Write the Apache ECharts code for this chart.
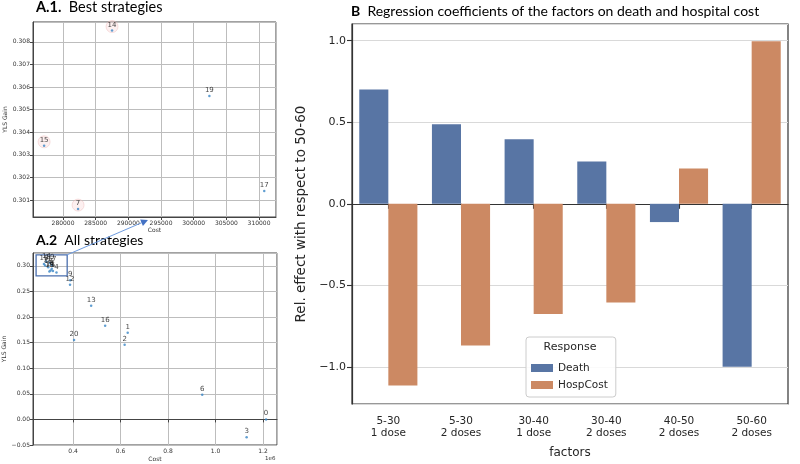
<!DOCTYPE html>
<html><head><meta charset="utf-8">
<script src="https://cdn.jsdelivr.net/npm/echarts@6/dist/echarts.min.js"></script>
<style>html,body{margin:0;padding:0;background:#fff}#c{width:800px;height:464px}</style>
</head><body><div id="c"></div>
<script>
// ---- Panel A data: strategies (cost, YLS gain) ----
const strategyIds   = [0, 1, 2, 3, 4, 5, 6, 7, 8, 9, 10, 11, 12, 13, 14, 15, 16, 17, 18, 19, 20];
const strategyCost  = [1213000, 630000, 617000, 1131000, 330000, 315000, 944000, 282300, 310000, 388000, 295000, 305000, 387000, 476000, 287500, 277100, 535000, 310800, 300000, 302400, 404000];
const strategyYls   = [0.000, 0.169, 0.146, -0.035, 0.287, 0.290, 0.048, 0.3006, 0.294, 0.272, 0.297, 0.291, 0.263, 0.222, 0.3085, 0.3034, 0.183, 0.3014, 0.289, 0.3056, 0.155];
const bestIds        = [7, 14, 15, 17, 19];
const highlightedIds = [7, 14, 15];
const zoomBoxCost = [244000, 375000];
const zoomBoxYls  = [0.2805, 0.3215];

// ---- Panel B data ----
const factorAges  = ['5-30', '5-30', '30-40', '30-40', '40-50', '50-60'];
const factorDoses = ['1 dose', '2 doses', '1 dose', '2 doses', '2 doses', '2 doses'];
const deathCoef    = [0.70, 0.488, 0.396, 0.259, -0.112, -0.998];
const hospCostCoef = [-1.113, -0.868, -0.676, -0.605, 0.216, 0.996];
const responseNames = ['Death', 'HospCost'];

const factorCategories = factorAges.map((a, i) => a + '\n' + factorDoses[i]);
const pts = ids => ids.map(id => { const i = strategyIds.indexOf(id); return [strategyCost[i], strategyYls[i], id]; });

const FONT = 'DejaVu Sans';
const minus = s => s.replace('-', '\u2212');

const smallAxis = (extra) => Object.assign({
  type: 'value', scale: true,
  axisLine: { show: true, lineStyle: { color: '#444', width: 1 } },
  axisTick: { show: true, length: 3, lineStyle: { color: '#444' } },
  axisLabel: { fontSize: 6, color: '#333', fontFamily: FONT, margin: 3, showMinLabel: false, showMaxLabel: false },
  splitLine: { show: true, lineStyle: { color: '#bdbdbd', width: 1 } },
  nameLocation: 'middle',
  nameTextStyle: { fontSize: 6, color: '#333', fontFamily: FONT }
}, extra);

const titleStyle = (size) => ({
  fontFamily: 'Lato', fontWeight: 'normal', fontSize: size, color: '#000',
  rich: { b: { fontFamily: 'Lato', fontWeight: 'bold', fontSize: size, color: '#000' },
          r: { fontFamily: 'Lato', fontWeight: 'normal', fontSize: size, color: '#000' } }
});

const chart = echarts.init(document.getElementById('c'), null, { renderer: 'canvas' });

const option = {
  animation: false,
  backgroundColor: '#fff',
  title: [
    { text: '{b|A.1.}  {r|Best strategies}', left: 36, top: 0, padding: 0, textStyle: titleStyle(14.5) },
    { text: '{b|A.2}  {r|All strategies}', left: 36, top: 233, padding: 0, textStyle: titleStyle(14) },
    { text: '{b|B}  {r|Regression coefficients of the factors on death and hospital cost}', left: 351, top: 4, padding: 0, textStyle: titleStyle(14) }
  ],
  grid: [
    { left: 33, top: 22, width: 243, height: 195, show: true, borderColor: '#444', borderWidth: 1, backgroundColor: 'transparent' },
    { left: 33, top: 253, width: 244, height: 192, show: true, borderColor: '#444', borderWidth: 1, backgroundColor: 'transparent' },
    { left: 352, top: 24, width: 436, height: 380, show: true, borderColor: '#333', borderWidth: 1.2, backgroundColor: 'transparent' }
  ],
  xAxis: [
    smallAxis({ gridIndex: 0, min: 275400, max: 312600, splitNumber: 7, name: 'Cost', nameGap: 10,
      axisLabel: { fontSize: 6, color: '#333', fontFamily: FONT, margin: 3, showMinLabel: false, showMaxLabel: false, formatter: v => String(Math.round(v)) } }),
    smallAxis({ gridIndex: 1, min: 231000, max: 1259000, splitNumber: 5, name: 'Cost', nameGap: 11,
      axisLabel: { fontSize: 6, color: '#333', fontFamily: FONT, margin: 3, showMinLabel: false, showMaxLabel: false, formatter: v => (v / 1e6).toFixed(1) } }),
    { type: 'category', gridIndex: 2, data: factorCategories,
      axisLine: { show: true, lineStyle: { color: '#333', width: 1.2 } },
      axisTick: { show: true, alignWithLabel: true, length: 5, lineStyle: { color: '#333', width: 1.1 } },
      axisLabel: { fontSize: 10.5, lineHeight: 12.5, color: '#262626', fontFamily: FONT, margin: 11 },
      splitLine: { show: false },
      name: 'factors', nameLocation: 'middle', nameGap: 43,
      nameTextStyle: { fontSize: 12, color: '#262626', fontFamily: FONT } }
  ],
  yAxis: [
    smallAxis({ gridIndex: 0, min: 0.30025, max: 0.30888, splitNumber: 8, name: 'YLS Gain', nameGap: 18,
      axisLabel: { fontSize: 6, color: '#333', fontFamily: FONT, margin: 3, showMinLabel: false, showMaxLabel: false, formatter: v => v.toFixed(3) } }),
    smallAxis({ gridIndex: 1, min: -0.05, max: 0.325, splitNumber: 7, name: 'YLS Gain', nameGap: 23,
      axisLabel: { fontSize: 6, color: '#333', fontFamily: FONT, margin: 3, showMinLabel: true, showMaxLabel: false, formatter: v => minus(v.toFixed(2)) } }),
    { type: 'value', gridIndex: 2, min: -1.227, max: 1.102, splitNumber: 5,
      axisLine: { show: true, lineStyle: { color: '#333', width: 1.2 } },
      axisTick: { show: true, length: 5, lineStyle: { color: '#333', width: 1.1 } },
      axisLabel: { fontSize: 11, color: '#262626', fontFamily: FONT, margin: 6, showMinLabel: false, showMaxLabel: false, formatter: v => minus(v.toFixed(1)) },
      splitLine: { show: true, lineStyle: { color: '#d9d9d9', width: 1 } },
      name: 'Rel. effect with respect to 50-60', nameLocation: 'middle', nameGap: 33,
      nameTextStyle: { fontSize: 13.5, color: '#262626', fontFamily: FONT } }
  ],
  legend: {
    data: responseNames, orient: 'vertical', left: 526, top: 337,
    padding: [24, 8, 5, 5], itemWidth: 22, itemHeight: 8, itemGap: 3, icon: 'rect',
    borderColor: '#cccccc', borderWidth: 1, borderRadius: 3, backgroundColor: 'rgba(255,255,255,0.85)',
    textStyle: { fontSize: 10.5, color: '#262626', fontFamily: FONT, lineHeight: 14 }
  },
  series: [
    { type: 'scatter', xAxisIndex: 0, yAxisIndex: 0, data: pts(highlightedIds), symbolSize: 12, symbolOffset: [0, -4], z: 1,
      itemStyle: { color: 'rgba(250,214,214,0.45)', borderColor: 'rgba(232,170,170,0.55)', borderWidth: 0.8 }, silent: true },
    { type: 'scatter', xAxisIndex: 0, yAxisIndex: 0, data: pts(bestIds), symbolSize: 2.5, z: 3,
      itemStyle: { color: '#3a86c6' },
      label: { show: true, position: 'top', distance: 1, fontSize: 7, color: '#111', fontFamily: FONT, formatter: p => String(p.value[2]) } },
    { type: 'scatter', xAxisIndex: 1, yAxisIndex: 1, data: pts(strategyIds), symbolSize: 2.5, z: 3,
      itemStyle: { color: '#3a86c6' },
      label: { show: true, position: 'top', distance: 1, fontSize: 7, color: '#111', fontFamily: FONT, formatter: p => String(p.value[2]) },
      labelLayout: { hideOverlap: false },
      markArea: { silent: true, itemStyle: { color: 'rgba(0,0,0,0)', borderColor: '#4a6fae', borderWidth: 1.3 },
        data: [[{ coord: [zoomBoxCost[0], zoomBoxYls[1]] }, { coord: [zoomBoxCost[1], zoomBoxYls[0]] }]] } },
    { type: 'bar', name: responseNames[0], xAxisIndex: 2, yAxisIndex: 2, data: deathCoef,
      barGap: '0%', barCategoryGap: '20%', itemStyle: { color: '#5875a4' } },
    { type: 'bar', name: responseNames[1], xAxisIndex: 2, yAxisIndex: 2, data: hospCostCoef,
      barGap: '0%', barCategoryGap: '20%', itemStyle: { color: '#cc8963' } }
  ]
};
chart.setOption(option);

// arrow from zoom box corner to panel A.1 axis, plus extra texts
const p1 = chart.convertToPixel({ gridIndex: 1 }, [zoomBoxCost[1], zoomBoxYls[1]]);
const tip = chart.convertToPixel({ gridIndex: 0 }, [293000, 0.30025]);
tip[1] += 3;
const dx = tip[0] - p1[0], dy = tip[1] - p1[1], L = Math.hypot(dx, dy);
const ux = dx / L, uy = dy / L, hl = 7, hw = 3.5;
const base = [tip[0] - ux * hl, tip[1] - uy * hl];
chart.setOption({
  graphic: [
    { type: 'line', shape: { x1: p1[0], y1: p1[1], x2: base[0], y2: base[1] }, style: { stroke: '#6d9be0', lineWidth: 1 }, z: 10 },
    { type: 'polygon', shape: { points: [tip, [base[0] - uy * hw, base[1] + ux * hw], [base[0] + uy * hw, base[1] - ux * hw]] }, style: { fill: '#4472c4' }, z: 10 },
    { type: 'text', left: 265, top: 456, style: { text: '1e6', fontSize: 5.5, fill: '#333', fontFamily: FONT }, z: 10 },
    { type: 'text', x: 570, y: 347, style: { text: 'Response', fontSize: 11, fill: '#262626', fontFamily: FONT, align: 'center', verticalAlign: 'middle' }, z: 100 }
  ]
});
</script></body></html>
